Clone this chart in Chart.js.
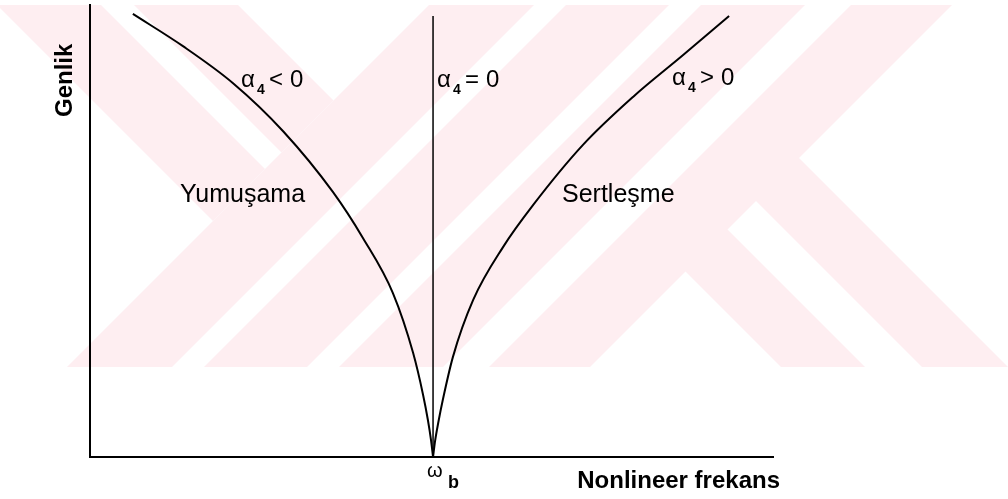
<!DOCTYPE html>
<html lang="tr">
<head>
<meta charset="UTF-8">
<title>Genlik - Nonlineer frekans</title>
<script src="https://cdn.jsdelivr.net/npm/chart.js"></script>
<style>
  html, body { margin: 0; padding: 0; background: #fff; }
  #wrap { width: 1008px; height: 499px; }
</style>
</head>
<body>
<div id="wrap"><canvas id="curveChart" width="1008" height="499"></canvas></div>
<script>
// frequency scaled so that the linear frequency w_b = 1
const softeningX = [1.0, 0.994, 0.985, 0.971, 0.942, 0.883, 0.796, 0.708, 0.563, 0.417, 0.271, 0.125];
const softeningY = [0, 0.050, 0.108, 0.181, 0.303, 0.478, 0.638, 0.773, 0.950, 1.090, 1.198, 1.292];
const hardeningX = [1.0, 1.006, 1.015, 1.029, 1.058, 1.117, 1.204, 1.292, 1.437, 1.583, 1.729, 1.863];
const hardeningY = [0, 0.047, 0.099, 0.169, 0.292, 0.458, 0.612, 0.735, 0.910, 1.050, 1.172, 1.286];
const linearX = [1.0, 1.0];
const linearY = [0, 1.286];

const xMax = 1.991;
const yMax = 1.318;

const toPoints = (xs, ys) => xs.map((x, i) => ({ x: x, y: ys[i] }))
  .sort((a, b) => a.x - b.x);

const FONT = '"Liberation Sans", Arial, sans-serif';
const PINK = '#feeef1';

// faint background logo: diagonal bands (x+y and x-y ranges in canvas px)
const riseBands = [[434, 539], [571, 674], [706, 810], [856, 957]];
const leftFallBands = [[129, 233], [-8, 96]];
const rightFallBands = [[414, 498], [555, 641]];

const backdrop = {
  id: 'backdrop',
  beforeDraw(chart) {
    const ctx = chart.ctx;
    ctx.save();
    ctx.fillStyle = '#fff';
    ctx.fillRect(0, 0, chart.width, chart.height);
    ctx.beginPath();
    ctx.rect(0, 5, chart.width, 362);
    ctx.clip();
    ctx.fillStyle = PINK;
    riseBands.forEach(([a, b]) => {
      ctx.beginPath();
      ctx.moveTo(a + 100, -100); ctx.lineTo(b + 100, -100);
      ctx.lineTo(b - 600, 600); ctx.lineTo(a - 600, 600);
      ctx.closePath(); ctx.fill();
    });
    const fall = (bands, edge, leftSide) => {
      ctx.save();
      ctx.beginPath();
      if (leftSide) { ctx.moveTo(-50, edge + 50); ctx.lineTo(edge + 50, -50); ctx.lineTo(-50, -50); }
      else { ctx.moveTo(edge + 50, -50); ctx.lineTo(2000, -50); ctx.lineTo(2000, 2000); ctx.lineTo(edge - 2000, 2000); }
      ctx.closePath();
      ctx.clip();
      bands.forEach(([a, b]) => {
        ctx.beginPath();
        ctx.moveTo(a - 100, -100); ctx.lineTo(b - 100, -100);
        ctx.lineTo(b + 600, 600); ctx.lineTo(a + 600, 600);
        ctx.closePath(); ctx.fill();
      });
      ctx.restore();
    };
    fall(leftFallBands, 434, true);
    fall(rightFallBands, 956, false);
    ctx.restore();
  }
};

function drawAlpha(ctx, op, x, base) {
  ctx.font = '24px ' + FONT;
  ctx.fillText('\u03b1', x, base);
  ctx.font = 'bold 14px ' + FONT;
  ctx.fillText('4', x + 16, base + 7);
  ctx.font = '24px ' + FONT;
  ctx.fillText(op, x + 28, base);
  ctx.fillText('0', x + 49, base);
}

const labels = {
  id: 'labels',
  afterDraw(chart) {
    const ctx = chart.ctx;
    ctx.save();
    ctx.fillStyle = '#000';
    ctx.textBaseline = 'alphabetic';
    ctx.textAlign = 'left';

    ctx.font = 'bold 24px ' + FONT;
    ctx.save();
    ctx.translate(72, 117);
    ctx.rotate(-Math.PI / 2);
    ctx.fillText('Genlik', 0, 0);
    ctx.restore();
    ctx.textAlign = 'right';
    ctx.fillText('Nonlineer frekans', 780, 488);
    ctx.textAlign = 'left';

    ctx.font = '25px ' + FONT;
    ctx.fillText('Yumuşama', 180, 202);
    ctx.fillText('Sertleşme', 562, 202);

    drawAlpha(ctx, '<', 241, 87);
    drawAlpha(ctx, '=', 437, 87);
    drawAlpha(ctx, '>', 672, 85);

    ctx.font = '20px ' + FONT;
    ctx.fillText('\u03c9', 427, 477);
    ctx.font = 'bold 18px ' + FONT;
    ctx.fillText('b', 448, 488);
    ctx.restore();
  }
};

const lineStyle = {
  showLine: true,
  borderColor: '#000',
  pointRadius: 0,
  fill: false,
  clip: false,
  cubicInterpolationMode: 'monotone'
};

new Chart(document.getElementById('curveChart'), {
  type: 'scatter',
  data: {
    datasets: [
      Object.assign({ label: 'α4 < 0', data: toPoints(softeningX, softeningY), borderWidth: 2 }, lineStyle),
      Object.assign({ label: 'α4 = 0', data: toPoints(linearX, linearY), borderWidth: 1.5 }, lineStyle),
      Object.assign({ label: 'α4 > 0', data: toPoints(hardeningX, hardeningY), borderWidth: 2 }, lineStyle)
    ]
  },
  options: {
    responsive: false,
    animation: false,
    layout: { padding: { left: 90, right: 235, top: 5, bottom: 42 } },
    plugins: { legend: { display: false }, tooltip: { enabled: false } },
    scales: {
      x: {
        type: 'linear', min: 0, max: xMax,
        grid: { display: false, drawTicks: false },
        ticks: { display: false },
        border: { display: true, color: '#000', width: 2 }
      },
      y: {
        type: 'linear', min: 0, max: yMax,
        grid: { display: false, drawTicks: false },
        ticks: { display: false },
        border: { display: true, color: '#000', width: 2 }
      }
    }
  },
  plugins: [backdrop, labels]
});
</script>
</body>
</html>
